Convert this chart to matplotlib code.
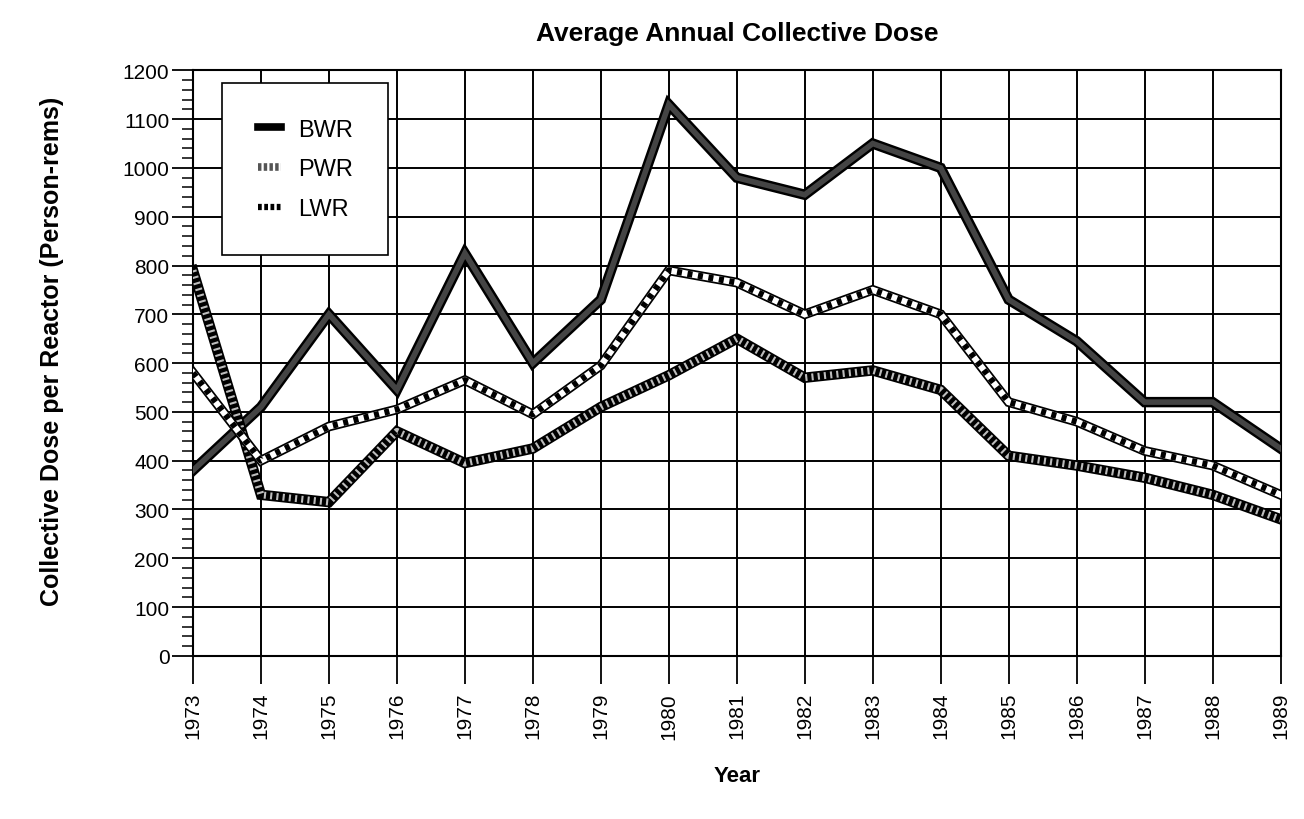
import matplotlib
matplotlib.use("Agg")
import matplotlib.pyplot as plt
from matplotlib.lines import Line2D
from matplotlib.ticker import MultipleLocator

plt.rcParams['font.family'] = ['Liberation Sans', 'DejaVu Sans']

# Values
years = list(range(1973, 1990))
bwr = [380, 510, 700, 545, 825, 600, 730, 1130, 980, 945, 1050, 1000, 730, 645, 520, 520, 425]
pwr = [790, 330, 315, 460, 395, 425, 510, 575, 650, 570, 585, 545, 410, 390, 365, 330, 280]
lwr = [580, 400, 470, 505, 565, 495, 595, 790, 765, 700, 750, 700, 520, 480, 420, 390, 330]

fig = plt.figure(figsize=(13.04, 8.2), dpi=100)
ax = fig.add_axes([0.148, 0.199, 0.834, 0.714])

# BWR - solid heavy line
ax.plot(years, bwr, color='black', lw=7.5, solid_joinstyle='miter', zorder=3)
ax.plot(years, bwr, color='#444444', lw=4, solid_joinstyle='miter', zorder=3)

# PWR - hatched heavy line
ax.plot(years, pwr, color='black', lw=7.5, solid_joinstyle='miter', zorder=4)
ax.plot(years, pwr, color='#bdbdbd', lw=5, ls=(0, (0.3, 0.6)), zorder=4)

# LWR - chain line (black and white links)
ax.plot(years, lwr, color='black', lw=7, solid_joinstyle='miter', zorder=5)
ax.plot(years, lwr, color='white', lw=4.5, solid_joinstyle='miter', zorder=5)
ax.plot(years, lwr, color='black', lw=4.5, ls=(0, (0.8, 0.9)), zorder=5)

ax.set_xlim(1973, 1989)
ax.set_ylim(0, 1200)
ax.set_xticks(years)
ax.set_xticklabels([str(y) for y in years], rotation=90, fontsize=15)
ax.yaxis.set_major_locator(MultipleLocator(100))
ax.yaxis.set_minor_locator(MultipleLocator(20))
ax.tick_params(axis='y', which='major', length=15, width=1.3, labelsize=15, pad=2)
ax.tick_params(axis='y', which='minor', length=8, width=1.1)
ax.tick_params(axis='x', which='major', length=20, width=1.3, pad=6)

ax.grid(True, which='major', color='black', lw=1.4)
for s in ax.spines.values():
    s.set_linewidth(1.5)

ax.set_title('Average Annual Collective Dose', fontsize=19, fontweight='bold', pad=22)
ax.set_ylabel('Collective Dose per Reactor (Person-rems)', fontsize=18, fontweight='bold')
ax.yaxis.set_label_coords(-0.119, 0.522)
ax.set_xlabel('Year', fontsize=16, fontweight='bold', labelpad=19)

handles = [
    Line2D([], [], color='black', lw=5.5),
    Line2D([], [], color='#555555', lw=5.5, ls=(0, (0.45, 0.3))),
    Line2D([], [], color='black', lw=4.5, ls=(0, (0.6, 0.4))),
]
leg = ax.legend(handles, ['BWR', 'PWR', 'LWR'], loc='upper left',
                bbox_to_anchor=(0.027, 0.978), fontsize=17, fancybox=False,
                edgecolor='black', framealpha=1, handlelength=1.0,
                borderpad=1.5, labelspacing=0.75, handletextpad=0.7,
                borderaxespad=0)
leg.get_frame().set_linewidth(1.2)
leg.set_zorder(10)

fig.savefig('out.png', dpi=100)
